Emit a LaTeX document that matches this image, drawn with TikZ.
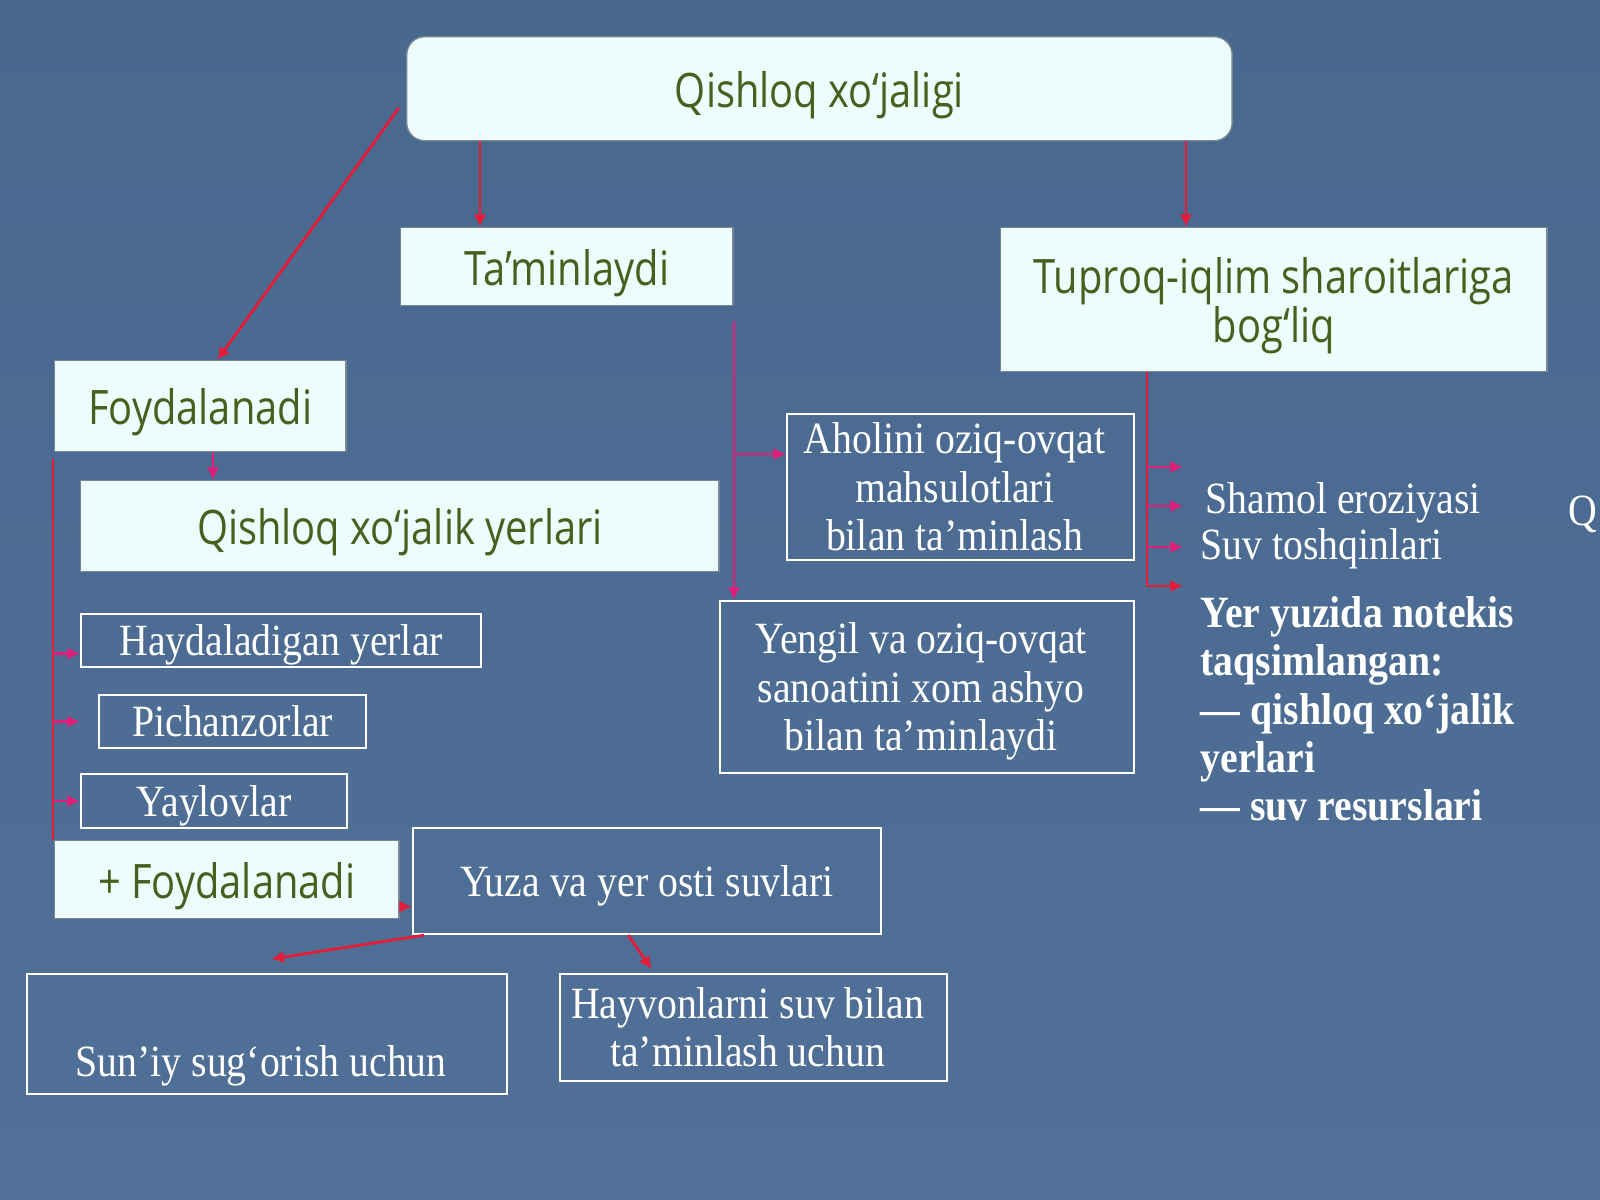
\documentclass[tikz,border=0pt]{standalone}
\usepackage{fontspec}
\setmainfont{Liberation Serif}[FakeStretch=0.89]
\newfontfamily\boxfont{Open Sans}[FakeStretch=0.84]
\usetikzlibrary{arrows.meta,positioning}

\definecolor{slidetop}{RGB}{72,104,142}
\definecolor{slidemid}{RGB}{94,128,166}
\definecolor{slidebot}{RGB}{80,112,152}
\definecolor{boxfill}{RGB}{238,252,252}
\definecolor{boxedge}{RGB}{120,135,150}
\definecolor{boxgreen}{RGB}{66,98,30}
\definecolor{linkred}{RGB}{228,28,58}
\definecolor{linkpink}{RGB}{222,30,120}

\newcommand{\sansup}{\rule{0pt}{14.4pt}}% first line as tall as the slide font
\newcommand{\serifup}{\rule{0pt}{11.3pt}}
\newcommand{\nudge}{\kern0.12cm}% text sits a bit left in the white boxes

\tikzset{
  fillbox/.style={fill=boxfill, draw=boxedge, line width=0.4pt, text=boxgreen,
    font=\boxfont\fontsize{13.5}{14}\selectfont, align=center, inner sep=0pt, anchor=north west,
    execute at begin node={\sansup}, execute at end node={\rule[-3.96pt]{0pt}{3.96pt}}},
  linebox/.style={draw=white, line width=0.6pt, text=white,
    font=\fontsize{12.7}{13.7}\selectfont, align=center, inner sep=0pt, anchor=north west,
    execute at begin node={\serifup}, execute at end node={\rule[-2.74pt]{0pt}{2.74pt}}},
  freetext/.style={text=white, font=\fontsize{12.7}{13.7}\selectfont, inner sep=0pt},
  link/.style={draw=linkred, line width=0.8pt},
  linkarrow/.style={link, -{Latex[length=3.6pt,width=3.6pt]}},
  pinkarrow/.style={linkarrow, draw=linkpink},
}

\begin{document}
\begin{tikzpicture}[x=0.01cm,y=-0.01cm]% one unit = one pixel, y downwards
\useasboundingbox (0,0) rectangle (1600,1200);
\shade[top color=slidetop, middle color=slidemid, bottom color=slidebot] (0,0) rectangle (1600,1200);

% boxes
\node[fillbox, rounded corners=0.18cm, minimum width=8.25cm, minimum height=1.04cm] (top) at (406,36) {Qishloq xo‘jaligi};
\node[fillbox, minimum width=3.32cm, minimum height=0.78cm] (tam) at (400,227) {Ta’minlaydi};
\node[fillbox, minimum width=5.46cm, minimum height=1.44cm] (tup) at (1000,227) {\sansup Tuproq-iqlim sharoitlariga\\bog‘liq};
\node[fillbox, minimum width=2.91cm, minimum height=0.91cm] (foyd) at (54,360) {Foydalanadi};
\node[fillbox, minimum width=6.38cm, minimum height=0.91cm] (qxy) at (80,480) {Qishloq xo‘jalik yerlari};
\node[linebox, minimum width=3.47cm, minimum height=1.46cm] (ahol) at (786,413)
  {\serifup Aholini oziq-ovqat\nudge\\mahsulotlari\nudge\\bilan ta’minlash\nudge};
\node[linebox, minimum width=4.14cm, minimum height=1.72cm] (yengil) at (719,600)
  {\serifup Yengil va oziq-ovqat\nudge\\sanoatini xom ashyo\nudge\\bilan ta’minlaydi\nudge};
\node[linebox, minimum width=4.00cm, minimum height=0.53cm] (hayd) at (80,613) {Haydaladigan yerlar};
\node[linebox, minimum width=2.67cm, minimum height=0.53cm] (pich) at (98,694) {Pichanzorlar};
\node[linebox, minimum width=2.66cm, minimum height=0.54cm] (yayl) at (80,773) {Yaylovlar};
\node[fillbox, minimum width=3.44cm, minimum height=0.78cm] (plus) at (54,840) {+ Foydalanadi};
\node[linebox, minimum width=4.68cm, minimum height=1.06cm] (yuza) at (412,827) {Yuza va yer osti suvlari};
\node[linebox, minimum width=4.80cm, text height=1.02cm, text depth=0.18cm] (suniy) at (26,973) {Sun’iy sug‘orish uchun\nudge};
\node[linebox, minimum width=3.87cm, minimum height=1.07cm] (hayv) at (559,973)
  {\serifup Hayvonlarni suv bilan\nudge\\ta’minlash uchun\nudge};

% free texts on the right
\node[freetext, anchor=base west] (shamol) at (1205,513) {Shamol eroziyasi};
\node[freetext, anchor=base west] (suv) at (1200,559) {Suv toshqinlari};
\node[freetext, anchor=north west, align=left, font=\bfseries\fontsize{12.7}{13.7}\selectfont] (yer) at (1200,596)
  {Yer yuzida notekis\\taqsimlangan:\\— qishloq xo‘jalik\\yerlari\\— suv resurslari};
\node[freetext, anchor=base west] (cut) at (1568,525) {Q};

% helper coordinates
\coordinate (tx) at (480,0);
\coordinate (ux) at (1186,0);
\coordinate (fx) at (213,0);
\coordinate (tv) at (734,321);
\coordinate (lv) at (53,459);
\coordinate (rv) at (1147,372);
\coordinate (re) at (1183,0);
\coordinate (b1) at (0,467);
\coordinate (b2) at (0,506);
\coordinate (b3) at (0,547);
\coordinate (b4) at (0,586);

% connectors from the top
\draw[linkarrow] ([shift={(-7,19)}]top.west) -- ([xshift=0.17cm]foyd.north);
\draw[linkarrow] (top.south -| tx) -- (tam.north -| tx);
\draw[linkarrow] (top.south -| ux) -- (tup.north -| ux);

% Ta'minlaydi branch
\coordinate (ahin) at ([yshift=0.33cm]ahol.west);
\draw[pinkarrow] (tv) -- (tv |- yengil.north);
\draw[pinkarrow] (tv |- ahin) -- (ahin);

% Foydalanadi branch
\draw[pinkarrow] (foyd.south -| fx) -- (qxy.north -| fx);
\draw[link] (lv) -- (lv |- plus.north);
\coordinate (hin) at ([yshift=-0.13cm]hayd.west);
\draw[pinkarrow] (lv |- hin) -- (hin);
\draw[pinkarrow] (lv |- pich.west) -- (pich.west -| hayd.west);
\draw[pinkarrow] (lv |- yayl.west) -- (yayl.west);

% water branch
\coordinate (pin) at ([yshift=-0.27cm]plus.east);
\draw[linkarrow] (pin) -- (pin -| yuza.west);
\draw[linkarrow] ([xshift=0.12cm]yuza.south west) -- ([shift={(4,-14)}]suniy.north);
\draw[linkarrow] ([xshift=-0.19cm]yuza.south) -- ([shift={(-102,-4)}]hayv.north);

% Tuproq branch
\draw[link] (rv) -- (rv |- b4);
\foreach \b in {b1,b2,b3}{
  \draw[pinkarrow] (rv |- \b) -- (re |- \b);
}
\draw[linkarrow] (rv |- b4) -- (re |- b4);
\end{tikzpicture}
\end{document}
